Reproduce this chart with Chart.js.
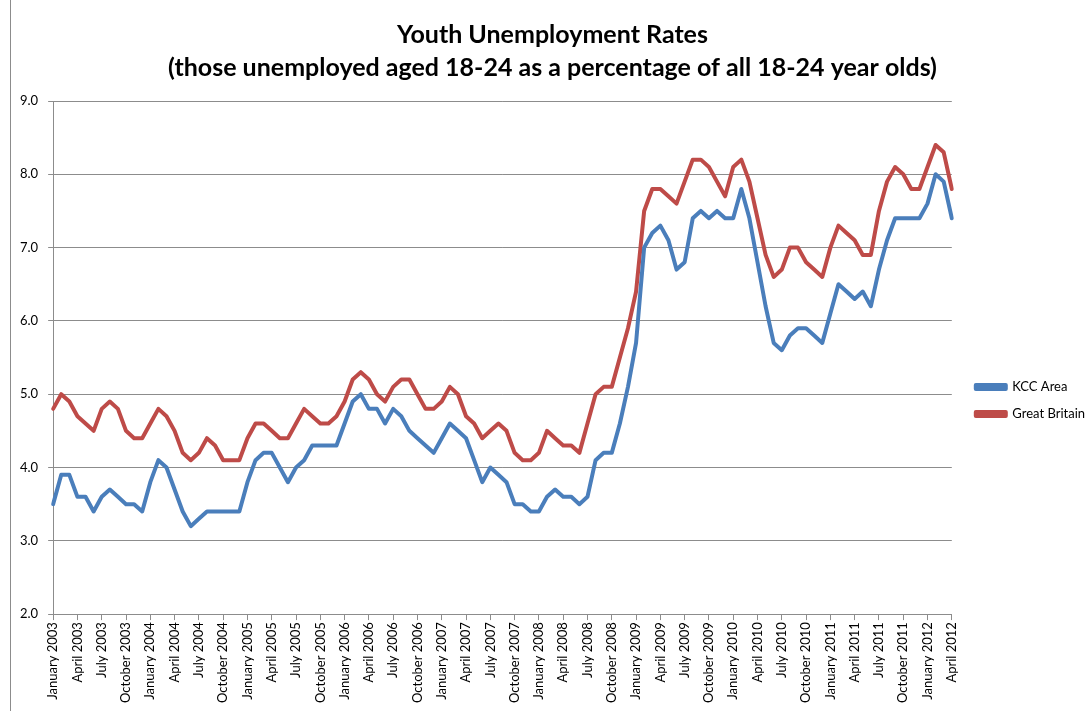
<!DOCTYPE html>
<html>
<head>
<meta charset="utf-8">
<script src="https://cdn.jsdelivr.net/npm/chart.js@4.4.1/dist/chart.umd.min.js"></script>
<style>
  html, body { margin: 0; padding: 0; background: #fff; overflow: hidden; }
  #wrap { position: absolute; left: 10px; top: 0; width: 1079px; height: 711px; border-left: 1px solid #8c8c8c; }
  canvas { display: block; }
</style>
</head>
<body>
<div id="wrap"><canvas id="c" width="1078" height="711"></canvas></div>
<script>
const monthNames = ["January","February","March","April","May","June","July","August","September","October","November","December"];
const startYear = 2003;
const monthCount = 112; // January 2003 .. April 2012
const labels = [];
for (let i = 0; i < monthCount; i++) {
  labels.push(monthNames[i % 12] + " " + (startYear + Math.floor(i / 12)));
}

const seriesNames = ["KCC Area", "Great Britain"];

const kccArea = [
  3.5, 3.9, 3.9, 3.6, 3.6, 3.4, 3.6, 3.7, 3.6, 3.5, 3.5, 3.4,
  3.8, 4.1, 4.0, 3.7, 3.4, 3.2, 3.3, 3.4, 3.4, 3.4, 3.4, 3.4,
  3.8, 4.1, 4.2, 4.2, 4.0, 3.8, 4.0, 4.1, 4.3, 4.3, 4.3, 4.3,
  4.6, 4.9, 5.0, 4.8, 4.8, 4.6, 4.8, 4.7, 4.5, 4.4, 4.3, 4.2,
  4.4, 4.6, 4.5, 4.4, 4.1, 3.8, 4.0, 3.9, 3.8, 3.5, 3.5, 3.4,
  3.4, 3.6, 3.7, 3.6, 3.6, 3.5, 3.6, 4.1, 4.2, 4.2, 4.6, 5.1,
  5.7, 7.0, 7.2, 7.3, 7.1, 6.7, 6.8, 7.4, 7.5, 7.4, 7.5, 7.4,
  7.4, 7.8, 7.4, 6.8, 6.2, 5.7, 5.6, 5.8, 5.9, 5.9, 5.8, 5.7,
  6.1, 6.5, 6.4, 6.3, 6.4, 6.2, 6.7, 7.1, 7.4, 7.4, 7.4, 7.4,
  7.6, 8.0, 7.9, 7.4
];

const greatBritain = [
  4.8, 5.0, 4.9, 4.7, 4.6, 4.5, 4.8, 4.9, 4.8, 4.5, 4.4, 4.4,
  4.6, 4.8, 4.7, 4.5, 4.2, 4.1, 4.2, 4.4, 4.3, 4.1, 4.1, 4.1,
  4.4, 4.6, 4.6, 4.5, 4.4, 4.4, 4.6, 4.8, 4.7, 4.6, 4.6, 4.7,
  4.9, 5.2, 5.3, 5.2, 5.0, 4.9, 5.1, 5.2, 5.2, 5.0, 4.8, 4.8,
  4.9, 5.1, 5.0, 4.7, 4.6, 4.4, 4.5, 4.6, 4.5, 4.2, 4.1, 4.1,
  4.2, 4.5, 4.4, 4.3, 4.3, 4.2, 4.6, 5.0, 5.1, 5.1, 5.5, 5.9,
  6.4, 7.5, 7.8, 7.8, 7.7, 7.6, 7.9, 8.2, 8.2, 8.1, 7.9, 7.7,
  8.1, 8.2, 7.9, 7.4, 6.9, 6.6, 6.7, 7.0, 7.0, 6.8, 6.7, 6.6,
  7.0, 7.3, 7.2, 7.1, 6.9, 6.9, 7.5, 7.9, 8.1, 8.0, 7.8, 7.8,
  8.1, 8.4, 8.3, 7.8
];

const titleLines = ["Youth Unemployment Rates", "(those unemployed aged 18-24 as a percentage of all 18-24 year olds)"];
const yMin = 2, yMax = 9, yStep = 1;
const tickEvery = 3;

const FONT = "Lato, 'Open Sans', sans-serif";
const GRID = "#8c8c8c";

new Chart(document.getElementById("c"), {
  type: "line",
  data: {
    labels: labels,
    datasets: [
      { label: seriesNames[0], data: kccArea, borderColor: "#4a7ebb", backgroundColor: "#4a7ebb", borderWidth: 4, pointRadius: 0, tension: 0, borderCapStyle: "round", borderJoinStyle: "round" },
      { label: seriesNames[1], data: greatBritain, borderColor: "#be4b48", backgroundColor: "#be4b48", borderWidth: 4, pointRadius: 0, tension: 0, borderCapStyle: "round", borderJoinStyle: "round" }
    ]
  },
  options: {
    responsive: false,
    animation: false,
    devicePixelRatio: 1,
    layout: { padding: { left: -1, right: -6, top: 10, bottom: 6 } },
    plugins: {
      title: {
        display: true,
        text: titleLines,
        color: "#000",
        font: { family: FONT, size: 25, weight: "bold", lineHeight: 1.32 },
        padding: { top: 8, bottom: 17 }
      },
      legend: {
        position: "right",
        title: {
          display: true,
          text: " ",
          font: { family: FONT, size: 10, lineHeight: 1 },
          padding: { top: 76, bottom: 0 }
        },
        labels: {
          boxWidth: 30,
          boxHeight: 4,
          padding: 14,
          color: "#000",
          font: { family: FONT, size: 13 }
        }
      },
      tooltip: { enabled: false }
    },
    scales: {
      x: {
        type: "category",
        offset: false,
        grid: {
          display: true,
          drawOnChartArea: false,
          drawTicks: true,
          tickLength: 6,
          color: (ctx) => (ctx.index % tickEvery === 0 ? GRID : "rgba(0,0,0,0)")
        },
        border: { display: true, color: GRID, width: 1 },
        ticks: {
          autoSkip: false,
          maxRotation: 90,
          minRotation: 90,
          padding: 2,
          color: "#000",
          font: { family: FONT, size: 13 },
          callback: function (value, index) { return index % tickEvery === 0 ? labels[index] : ""; }
        }
      },
      y: {
        min: yMin,
        max: yMax,
        grid: { color: GRID, lineWidth: 1, tickLength: 5 },
        border: { display: true, color: GRID, width: 1 },
        ticks: {
          stepSize: yStep,
          padding: 10,
          color: "#000",
          font: { family: FONT, size: 13 },
          callback: (v) => Number(v).toFixed(1)
        }
      },
      gap: {
        position: "right",
        display: true,
        grid: { display: false, drawTicks: false },
        border: { display: false },
        ticks: { display: false },
        afterFit: (scale) => { scale.width = 10; }
      }
    }
  }
});
</script>
</body>
</html>
